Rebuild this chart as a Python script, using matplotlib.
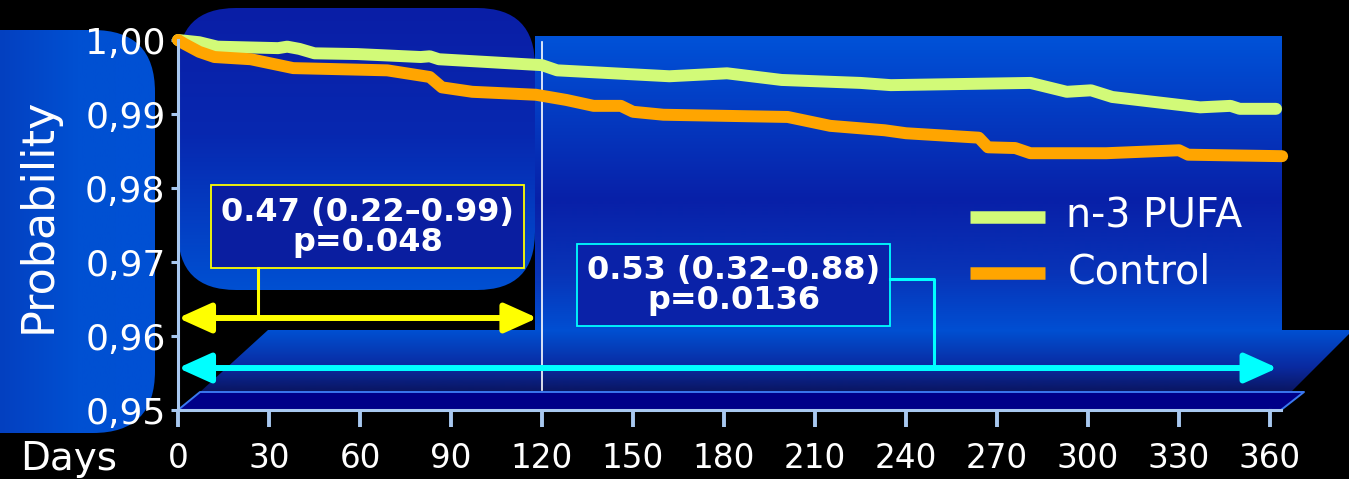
import numpy as np
import matplotlib
matplotlib.use('Agg')
import matplotlib.pyplot as plt
from matplotlib.patches import FancyBboxPatch, Polygon, Rectangle, FancyArrowPatch
from matplotlib.colors import LinearSegmentedColormap

# ---- data ----
days_pufa = [0, 7, 13, 33, 36, 40, 45, 59, 80, 83, 86, 120, 125, 162, 181, 199,
             225, 235, 281, 293, 301, 308, 337, 347, 350, 362]
prob_pufa = [1.0000, 0.9997, 0.9991, 0.9989, 0.9991, 0.9988, 0.9982, 0.9981, 0.9977,
             0.9978, 0.9974, 0.9966, 0.9959, 0.9951, 0.9955, 0.9946, 0.9942, 0.9939,
             0.9942, 0.9930, 0.9932, 0.9923, 0.9909, 0.9911, 0.9907, 0.9907]
days_ctrl = [0, 2, 7, 12, 24, 38, 69, 83, 87, 97, 118, 128, 137, 146, 150, 160, 201,
             215, 233, 240, 264, 267, 276, 281, 306, 330, 333, 364]
prob_ctrl = [1.0000, 0.9995, 0.9984, 0.9977, 0.9974, 0.9962, 0.9959, 0.9950, 0.9936,
             0.9930, 0.9926, 0.9919, 0.9911, 0.9911, 0.9903, 0.9899, 0.9896, 0.9884,
             0.9878, 0.9874, 0.9868, 0.9855, 0.9854, 0.9847, 0.9847, 0.9851, 0.9845,
             0.9843]
x_ticks = list(range(0, 361, 30))
y_ticks = [0.95, 0.96, 0.97, 0.98, 0.99, 1.00]
y_tick_labels = ['0,95', '0,96', '0,97', '0,98', '0,99', '1,00']
series_names = ['n-3 PUFA', 'Control']
hr_120 = ['0.47 (0.22\u20130.99)', 'p=0.048']
hr_360 = ['0.53 (0.32\u20130.88)', 'p=0.0136']
interval_120 = (0, 118.5)
interval_360 = (0, 362.5)
landmark_day = 120

GREEN = '#d2fa78'
ORANGE = '#ffa500'
AXC = '#a8c8f0'

W, H = 1349, 479
fig = plt.figure(figsize=(W / 100, H / 100), dpi=100, facecolor='black')
bg = fig.add_axes([0, 0, 1, 1])
bg.set_facecolor('black')
bg.axis('off')


def grad_patch(patch, stops, y0, y1, z=1, horizontal=False, x0=0, x1=W):
    patch.set_facecolor('none')
    patch.set_edgecolor('none')
    patch.set_zorder(z)
    bg.add_patch(patch)
    cmap = LinearSegmentedColormap.from_list('g', stops)
    if horizontal:
        img = np.linspace(0, 1, 256).reshape(1, -1)
        ext = [x0, x1, y1, y0]
    else:
        img = np.linspace(0, 1, 256).reshape(-1, 1)
        ext = [0, W, y1, y0]
    im = bg.imshow(img, cmap=cmap, extent=ext, aspect='auto',
                   origin='upper', zorder=z, interpolation='bilinear')
    im.set_clip_path(patch)


# left panel behind y label
lp = FancyBboxPatch((-90, 30), 245, 403, boxstyle='round,pad=0,rounding_size=62')
grad_patch(lp, [(0, '#0440c0'), (0.5, '#0050d2'), (1, '#0050d4')], 30, 433,
           horizontal=True, x0=0, x1=155)

# upper-left rounded panel
ul = FancyBboxPatch((178, 8), 357, 282, boxstyle='round,pad=0,rounding_size=58')
grad_patch(ul, [(0, '#0a1ea6'), (0.45, '#0728b0'), (1, '#0050d2')], 8, 290)

# main right panel
mp = Rectangle((535, 36), 747, 298)
grad_patch(mp, [(0, '#0052d8'), (0.55, '#0820a8'), (0.8, '#0834b8'), (1, '#0050d4')], 36, 334)

# floor top face
ft = Polygon([(268, 330), (1353, 330), (1291, 392), (200, 392)], closed=True)
grad_patch(ft, [(0, '#0050d2'), (0.6, '#0a2aa0'), (1, '#0a1560')], 330, 392)

# floor front face
ff = Polygon([(200, 392), (1304, 392), (1281, 410), (178, 410)], closed=True,
             facecolor='#000088', edgecolor='none', zorder=2)
bg.add_patch(ff)
bg.plot([178, 200, 1304, 1281], [410, 392, 392, 410], color='#3a78f0', lw=1.4, zorder=2.1)
bg.plot([1270, 1281], [410, 410], color=AXC, lw=2.2, zorder=2.1)

# annotation boxes
bg.add_patch(Rectangle((211, 185), 313, 83, facecolor='#0a1ea0', edgecolor='#ffff00',
                       lw=1.3, zorder=3))
bg.text(367.5, 212, hr_120[0], color='white', fontsize=23, fontweight='bold',
        ha='center', va='center', zorder=4)
bg.text(367.5, 243, hr_120[1], color='white', fontsize=23, fontweight='bold',
        ha='center', va='center', zorder=4)
bg.plot([258, 258], [268, 318], color='#ffff00', lw=2.2, zorder=3)

bg.add_patch(Rectangle((577, 244), 313, 82, facecolor='#0a22a8', edgecolor='#00ffff',
                       lw=1.3, zorder=3))
bg.text(733.5, 270, hr_360[0], color='white', fontsize=23, fontweight='bold',
        ha='center', va='center', zorder=4)
bg.text(733.5, 301, hr_360[1], color='white', fontsize=23, fontweight='bold',
        ha='center', va='center', zorder=4)
bg.plot([890, 934, 934], [279, 279, 368], color='#00ffff', lw=2.2, zorder=3)

# legend
bg.plot([970, 1045], [217, 217], color=GREEN, lw=9, solid_capstyle='butt', zorder=3)
bg.plot([970, 1045], [273, 273], color=ORANGE, lw=9, solid_capstyle='butt', zorder=3)
bg.text(1066, 216, series_names[0], color='white', fontsize=28.5, ha='left', va='center', zorder=4)
bg.text(1068, 272, series_names[1], color='white', fontsize=28.5, ha='left', va='center', zorder=4)

bg.text(20, 470, 'Days', color='white', fontsize=28, ha='left', va='baseline')

bg.set_xlim(0, W)
bg.set_ylim(H, 0)

# ---- data axes ----
ax = fig.add_axes([178 / W, (H - 410) / H, 1092 / W, 370 / H])
ax.set_facecolor('none')
ax.set_xlim(0, 360)
ax.set_ylim(0.95, 1.00)
for s in ['top', 'right']:
    ax.spines[s].set_visible(False)
for s in ['left', 'bottom']:
    ax.spines[s].set_color(AXC)
    ax.spines[s].set_linewidth(2.2)
    ax.spines[s].set_zorder(6)

ax.set_xticks(x_ticks)
ax.set_xticklabels([str(v) for v in x_ticks])
ax.set_yticks(y_ticks)
ax.set_yticklabels(y_tick_labels)
ax.tick_params(axis='x', colors=AXC, length=12, width=2.8, pad=11, labelsize=23.5,
               labelcolor='white')
ax.tick_params(axis='y', colors=AXC, length=5, width=2.2, pad=4, labelsize=26,
               labelcolor='white')
ax.set_ylabel('Probability', color='white', fontsize=32)
ax.yaxis.set_label_coords(-0.108, 0.527)

ax.plot([landmark_day, landmark_day], [0.9527, 0.99975], color='white', lw=1.2,
        zorder=3, clip_on=False)

ax.plot(days_pufa, prob_pufa, color=GREEN, lw=8.6, solid_capstyle='round',
        solid_joinstyle='round', clip_on=False, zorder=5, label=series_names[0])
ax.plot(days_ctrl, prob_ctrl, color=ORANGE, lw=8.6, solid_capstyle='round',
        solid_joinstyle='round', clip_on=False, zorder=5, label=series_names[1])

y_a1 = 1 - (318 - 40) / 7400
y_a2 = 1 - (368 - 40) / 7400
for (x0, x1), yy, col in [(interval_120, y_a1, '#ffff00'), (interval_360, y_a2, '#00ffff')]:
    arr = FancyArrowPatch((x0, yy), (x1, yy),
                          arrowstyle='<|-|>,head_length=20,head_width=9',
                          mutation_scale=1, color=col, lw=4.3, shrinkA=0, shrinkB=0,
                          clip_on=False, zorder=4)
    ax.add_patch(arr)

fig.savefig('out.png', dpi=100, facecolor='black')
